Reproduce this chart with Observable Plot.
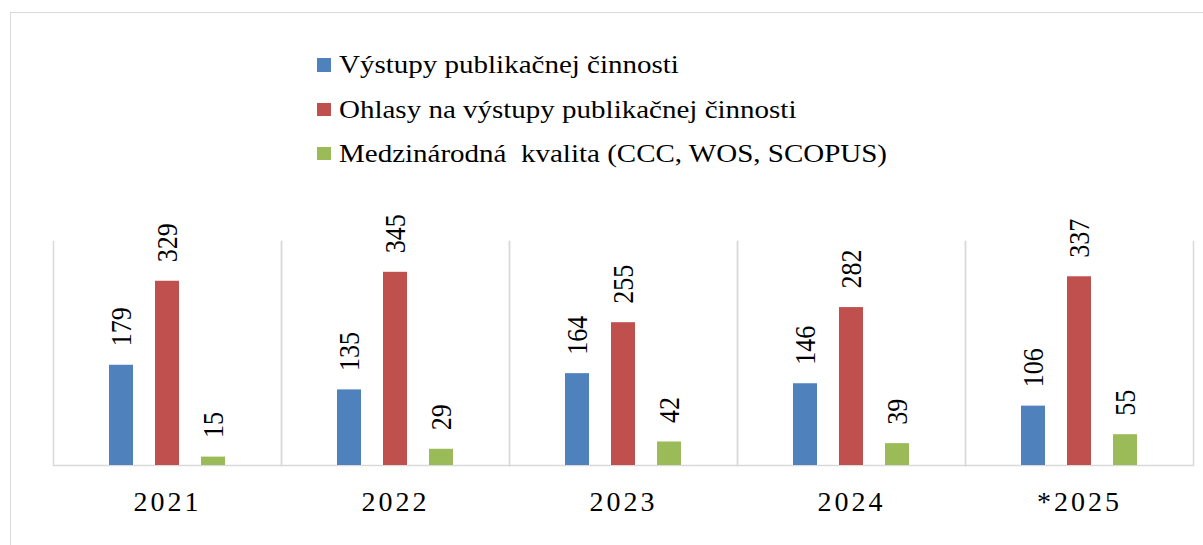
<!DOCTYPE html>
<html>
<head>
<meta charset="utf-8">
<script src="https://cdn.jsdelivr.net/npm/d3@7"></script>
<script src="https://cdn.jsdelivr.net/npm/@observablehq/plot@0.6"></script>
<style>
  html, body { margin: 0; padding: 0; background: #fff; overflow: hidden; }
  #frame { position: absolute; left: 10px; top: 12px; width: 1210px; height: 600px; border: 1.5px solid #d9d9d9; box-sizing: border-box; }
  #chart { position: absolute; left: 0; top: 0; width: 1203px; }
  #legend { position: relative; height: 200px; font-family: 'Liberation Serif'; font-size: 25px; color: #000; }
  .item { position: absolute; left: 317px; line-height: 25px; white-space: pre; }
  .sw { display: inline-block; width: 14px; height: 13.5px; vertical-align: 1.6px; margin-right: 8px; }
  .lbl { display: inline-block; transform: scaleX(1.16); transform-origin: left center; }
  svg text { font-family: 'Liberation Serif'; }
  [aria-label*="fx-axis"] text { letter-spacing: 3px; font-size: 28px; }
</style>
</head>
<body>
<div id="frame"></div>
<div id="chart">
  <div id="legend"></div>
</div>
<script>
const years = ["2021", "2022", "2023", "2024", "*2025"];
const series = [
  "Výstupy publikačnej činnosti",
  "Ohlasy na výstupy publikačnej činnosti",
  "Medzinárodná  kvalita (CCC, WOS, SCOPUS)"
];
const vystupy = [179, 135, 164, 146, 106];
const ohlasy = [329, 345, 255, 282, 337];
const medzinarodna = [15, 29, 42, 39, 55];
const colors = ["#4F81BD", "#C0504D", "#9BBB59"];

const valuesBySeries = [vystupy, ohlasy, medzinarodna];
const data = years.flatMap((yr, i) =>
  series.map((s, j) => ({year: yr, series: s, value: valuesBySeries[j][i]}))
);

// Legend
const legend = document.getElementById("legend");
series.forEach((s, j) => {
  const item = document.createElement("div");
  item.className = "item";
  item.style.top = (52.4 + 44.2 * j) + "px";
  const sw = document.createElement("span");
  sw.className = "sw";
  sw.style.background = colors[j];
  const lbl = document.createElement("span");
  lbl.className = "lbl";
  lbl.textContent = s;
  item.appendChild(sw);
  item.appendChild(lbl);
  legend.appendChild(item);
});

const grid = "#d9d9d9";
const chart = Plot.plot({
  width: 1203,
  height: 345,
  marginLeft: 52,
  marginRight: 9,
  marginTop: 41,
  marginBottom: 80,
  style: {fontFamily: "'Liberation Serif'", fontSize: "27px", color: "#000", background: "transparent", overflow: "visible"},
  fx: {domain: years, padding: 0, axis: "bottom", tickSize: 0, tickPadding: 26, label: null},
  x: {domain: series, paddingInner: 0.483, paddingOuter: 1.172, axis: null},
  y: {domain: [0, 400], axis: null},
  color: {domain: series, range: colors},
  marks: [
    Plot.frame({anchor: "left", stroke: grid, strokeWidth: 1.5}),
    Plot.frame({anchor: "right", stroke: grid, strokeWidth: 1.5}),
    Plot.ruleY([0], {stroke: grid, strokeWidth: 1.5}),
    Plot.barY(data, {fx: "year", x: "series", y: "value", fill: "series"}),
    Plot.text(data, {fx: "year", x: "series", y: "value", text: d => String(d.value), rotate: -90, textAnchor: "start", dy: -19, fontSize: 26, fill: "#000"})
  ]
});
// slight horizontal widening of rotated value labels to match reference glyph proportions
d3.select(chart).selectAll('g[aria-label="text"] text').each(function() {
  const t = this.getAttribute("transform") || "";
  this.setAttribute("transform", t + " scale(1,1.16)");
});
document.getElementById("chart").appendChild(chart);
</script>
</body>
</html>
